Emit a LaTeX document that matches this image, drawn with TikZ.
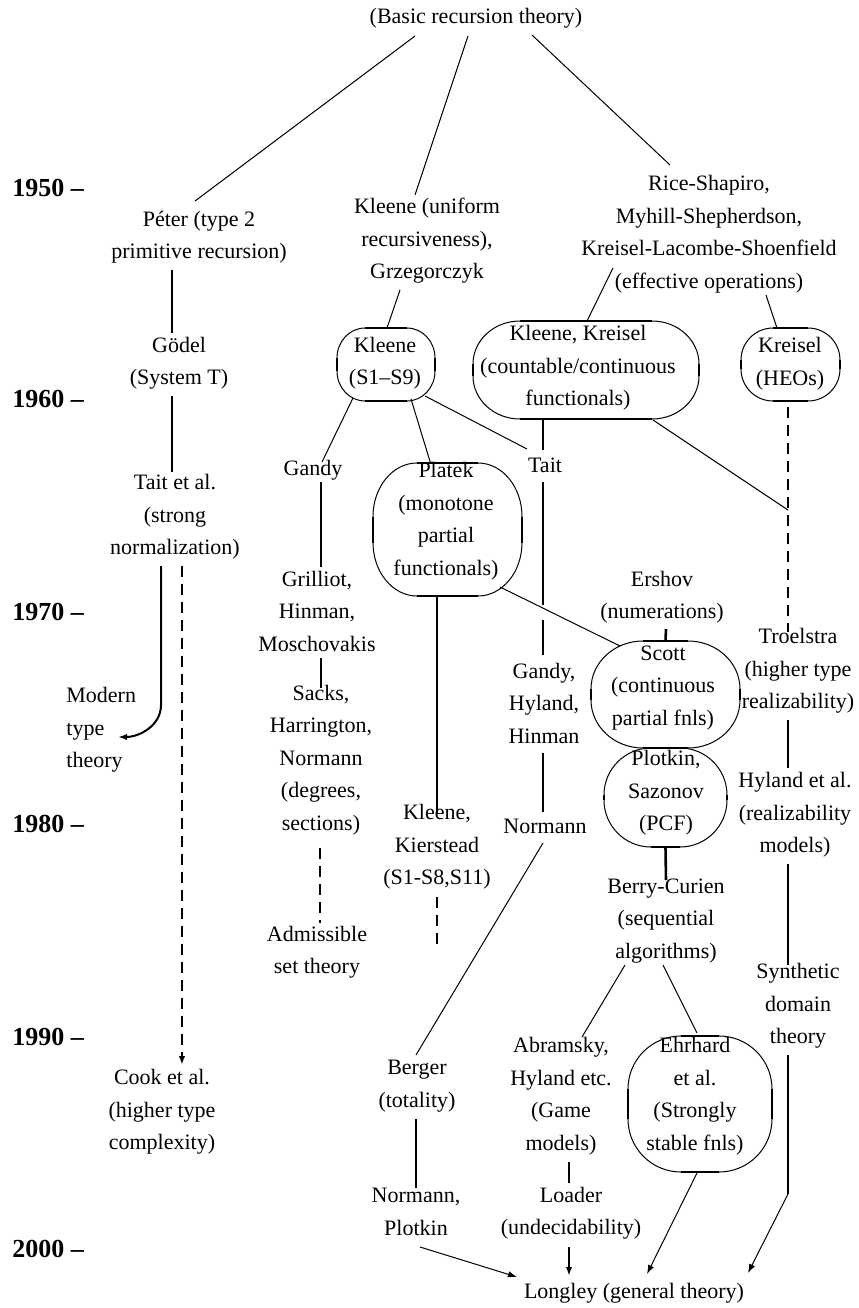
\documentclass[tikz,border=0pt]{standalone}
\usepackage{fontspec}
\setmainfont{Liberation Serif}
\usetikzlibrary{arrows.meta,calc}

\tikzset{
  txt/.style={inner sep=0pt, align=center, font=\fontsize{11pt}{16.25pt}\selectfont},
  year/.style={inner sep=0pt, anchor=west, font=\fontsize{13pt}{15pt}\selectfont\bfseries},
  eggnode/.style={inner sep=0pt, outer sep=0pt, draw=none},
  link/.style={line width=0.5pt},
  bar/.style={line width=1.3pt},
  dashbar/.style={bar, dash pattern=on 5.5pt off 3.5pt},
}

% outline of a box node: name, x radius, y radius
\newcommand{\eggbox}[3]{%
  \draw[link] ($(#1.north west)+(#2,0pt)$) -- ($(#1.north east)+(-#2,0pt)$)
    arc[start angle=90, end angle=0, x radius=#2, y radius=#3]
    -- ($(#1.south east)+(0pt,#3)$)
    arc[start angle=0, end angle=-90, x radius=#2, y radius=#3]
    -- ($(#1.south west)+(#2,0pt)$)
    arc[start angle=270, end angle=180, x radius=#2, y radius=#3]
    -- ($(#1.north west)+(0pt,-#3)$)
    arc[start angle=180, end angle=90, x radius=#2, y radius=#3] -- cycle;
  \draw[bar, line cap=butt] ($(#1.north west)+(#2,0pt)$) -- ($(#1.north east)+(-#2,0pt)$);
  \draw[bar, line cap=butt] ($(#1.south west)+(#2,0pt)$) -- ($(#1.south east)+(-#2,0pt)$);
  \draw[bar, line cap=butt] ($(#1.north west)+(0pt,-#3)$) -- ($(#1.south west)+(0pt,#3)$);
  \draw[bar, line cap=butt] ($(#1.north east)+(0pt,-#3)$) -- ($(#1.south east)+(0pt,#3)$);
}

\begin{document}
\begin{tikzpicture}[x=0.5pt, y=-0.5pt, >={Latex[length=4.5pt,width=3.2pt]}]
\useasboundingbox (0,0) rectangle (858,1308);

% decades
\node[year] (y1950) at (12,188) {1950 –};
\node[year] (y1960) at (12,399) {1960 –};
\node[year] (y1970) at (12,612) {1970 –};
\node[year] (y1980) at (12,824) {1980 –};
\node[year] (y1990) at (12,1037) {1990 –};
\node[year] (y2000) at (12,1249) {2000 –};

% boxes
\node[eggnode, minimum width=49pt, minimum height=36.5pt] (kleenebox) at (386,364.5) {};
\node[eggnode, minimum width=113pt, minimum height=49pt] (kkbox) at (586,370) {};
\node[eggnode, minimum width=49.5pt, minimum height=36.5pt] (heobox) at (790.5,364.5) {};
\node[eggnode, minimum width=74.5pt, minimum height=66.5pt] (platekbox) at (447.5,529.5) {};
\node[eggnode, minimum width=74.5pt, minimum height=53.5pt] (scottbox) at (665.5,694.5) {};
\node[eggnode, minimum width=61.5pt, minimum height=49.5pt] (pcfbox) at (665.5,797.5) {};
\node[eggnode, minimum width=72pt, minimum height=68pt] (ehrhardbox) at (700,1104) {};

% texts
\node[txt] (basic) at (476,18) {(Basic recursion theory)};
\node[txt] (peter) at (199,237) {Péter (type 2\\primitive recursion)};
\node[txt] (kleeneu) at (427,241) {Kleene (uniform\\recursiveness),\\Grzegorczyk};
\node[txt] (rice) at (709,234) {Rice-Shapiro,\\Myhill-Shepherdson,\\Kreisel-Lacombe-Shoenfield\\(effective operations)};
\node[txt] (godel) at (179,363) {Gödel\\(System T)};
\node[txt] (kleene) at (385,363) {Kleene\\(S1–S9)};
\node[txt] (kk) at (578,368) {Kleene, Kreisel\\(countable/continuous\\functionals)};
\node[txt] (heo) at (790,363.5) {Kreisel\\(HEOs)};
\node[txt] (taitetal) at (175,517) {Tait et al.\\(strong\\normalization)};
\node[txt] (gandy) at (313,470) {Gandy};
\node[txt] (platek) at (446,521) {Platek\\(monotone\\partial\\functionals)};
\node[txt] (tait) at (545,465) {Tait};
\node[txt] (grilliot) at (317,611) {Grilliot,\\Hinman,\\Moschovakis};
\node[txt] (ershov) at (662,597) {Ershov\\(numerations)};
\node[txt] (troelstra) at (798,671) {Troelstra\\(higher type\\realizability)};
\node[txt, align=left, anchor=west] (modern) at (66,730) {Modern\\type\\theory};
\node[txt] (sacks) at (321,760) {Sacks,\\Harrington,\\Normann\\(degrees,\\sections)};
\node[txt] (ghh) at (544,703) {Gandy,\\Hyland,\\Hinman};
\node[txt] (scott) at (663,688) {Scott\\(continuous\\partial fnls)};
\node[txt] (pcf) at (666,793) {Plotkin,\\Sazonov\\(PCF)};
\node[txt] (hyland) at (795,815) {Hyland et al.\\(realizability\\models)};
\node[txt] (kleenekier) at (437,847) {Kleene,\\Kierstead\\(S1-S8,S11)};
\node[txt] (normann) at (545,826) {Normann};
\node[txt] (berry) at (666,921) {Berry-Curien\\(sequential\\algorithms)};
\node[txt] (admissible) at (317,952) {Admissible\\set theory};
\node[txt] (synthetic) at (798,1006) {Synthetic\\domain\\theory};
\node[txt] (cook) at (162,1112) {Cook et al.\\(higher type\\complexity)};
\node[txt] (berger) at (417,1086) {Berger\\(totality)};
\node[txt] (abramsky) at (561,1096) {Abramsky,\\Hyland etc.\\(Game\\models)};
\node[txt] (ehrhard) at (695,1096) {Ehrhard\\et al.\\(Strongly\\stable fnls)};
\node[txt] (normplot) at (416,1212) {Normann,\\Plotkin};
\node[txt] (loader) at (571,1213) {Loader\\(undecidability)};
\node[txt] (longley) at (634,1293) {Longley (general theory)};

\coordinate (kkend) at (437,948);
\coordinate (trjoin) at (788,510);
\coordinate (synbend) at (788,1194);

% outlines
\eggbox{kleenebox}{14pt}{15pt}
\eggbox{kkbox}{23.5pt}{21.5pt}
\eggbox{heobox}{16pt}{16pt}
\eggbox{platekbox}{22pt}{26.75pt}
\eggbox{scottbox}{26pt}{24pt}
\eggbox{pcfbox}{23.5pt}{23.5pt}
\eggbox{ehrhardbox}{26.5pt}{26.5pt}

% from the top
\draw[link] ($(basic)+(-61,18)$) -- ($(peter)+(-4,-36)$);
\draw[link] ($(basic)+(-8,18)$) -- ($(kleeneu)+(-12,-46)$);
\draw[link] ($(basic)+(56,17)$) -- ($(rice)+(-39,-69)$);

% left column
\draw[bar] ($(peter)+(-27,33)$) -- ($(godel)+(-7,-30)$);
\draw[bar] ($(godel)+(-7,33)$) -- ($(taitetal)+(-3,-45)$);
\draw[line width=1pt, ->] ($(taitetal)+(-14,49)$) -- ++(0,139) to[out=-90, in=0] ($(modern.west)+(52,7)$);
\draw[dashbar, ->] ($(taitetal)+(7,49)$) -- ($(cook)+(20,-47)$);

% Kleene
\draw[link] ($(kleeneu)+(-27,49)$) -- ($(kleenebox)+(1,-36.5)$);
\draw[link] ($(kleenebox)+(-33,33.5)$) -- ($(gandy)+(9,-8)$);
\draw[bar] ($(gandy)+(8,12)$) -- ($(grilliot)+(4,-44)$);
\draw[bar] ($(grilliot)+(4,47)$) -- ($(sacks)+(0,-72)$);
\draw[dashbar] ($(sacks)+(-1,88)$) -- ($(admissible)+(3,-29)$);
\draw[link] ($(kleenebox)+(25,34.5)$) -- ($(platekbox)+(-17,-66.5)$);
\draw[link] ($(kleenebox)+(39,31.5)$) -- ($(tait)+(-18,-16)$);
\draw[bar] ($(platekbox)+(-10.5,66.5)$) -- ($(kleenekier)+(0,-34)$);
\draw[dashbar] ($(kleenekier)+(0,50)$) -- (kkend);
\draw[link] ($(platekbox)+(52.5,57.5)$) -- ($(scottbox)+(-45.5,-48.5)$);

% Tait
\draw[bar] ($(kkbox)+(-43,49)$) -- ($(tait)+(-2,-15)$);
\draw[bar] ($(tait)+(-2,17)$) -- ($(tait)+(-2,140)$);
\draw[bar] ($(tait)+(-2,155)$) -- ($(ghh)+(-1,-48)$);
\draw[bar] ($(ghh)+(-1,50)$) -- ($(normann)+(-2,-14)$);
\draw[link] ($(normann)+(-2,17)$) -- ($(berger)+(-1,-31)$);
\draw[bar] ($(berger)+(-1,33)$) -- ($(normplot)+(0,-24)$);
\draw[link, ->] ($(normplot)+(4,35)$) -- ($(longley)+(-117,-16)$);

% effective operations
\draw[link] ($(rice)+(-96,34)$) -- ($(kkbox)+(1,-49)$);
\draw[link] ($(rice)+(57,61)$) -- ($(heobox)+(-13.5,-36.5)$);
\draw[link] ($(kkbox)+(67,50)$) -- (trjoin);
\draw[dashbar] ($(heobox)+(-2.5,42.5)$) -- ($(troelstra)+(-10,-39)$);
\draw[bar] ($(troelstra)+(-10,49)$) -- ($(hyland)+(-7,-47)$);
\draw[bar] ($(hyland)+(-7,49)$) -- ($(synthetic)+(-10,-41)$);
\draw[bar] ($(synthetic)+(-10,49)$) -- (synbend);
\draw[link, ->] (synbend) -- ($(longley)+(114,-20)$);

% Scott
\draw[bar] ($(ershov)+(4,32)$) -- (scottbox.north);
\draw[bar] (pcfbox.south) -- ($(berry)+(0,-41)$);
\draw[link] ($(berry)+(-41,44)$) -- ($(abramsky)+(21,-59)$);
\draw[link] ($(berry)+(-3,44)$) -- ($(ehrhardbox)+(-3,-71)$);
\draw[bar] ($(abramsky)+(8,66)$) -- ($(loader)+(-2,-30)$);
\draw[bar, ->] ($(loader)+(-2,34)$) -- ($(longley)+(-65,-17)$);
\draw[link, ->] ($(ehrhardbox)+(-3,69)$) -- ($(longley)+(13,-19)$);
\end{tikzpicture}
\end{document}
